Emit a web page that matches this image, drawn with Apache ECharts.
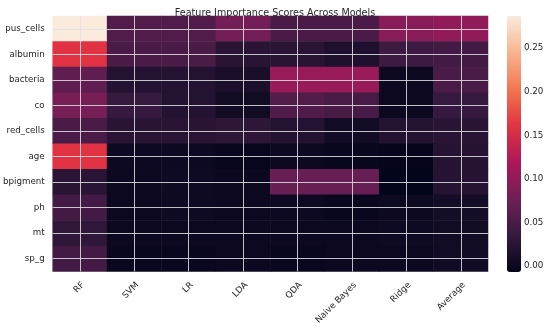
<!DOCTYPE html>
<html>
<head>
<meta charset="utf-8">
<script src="https://cdn.jsdelivr.net/npm/echarts@6/dist/echarts.min.js"></script>
<style>html,body{margin:0;padding:0;background:#fff}#c{width:550px;height:327px}</style>
</head>
<body>
<div id="c"></div>
<script>
const models = ['RF', 'SVM', 'LR', 'LDA', 'QDA', 'Naive Bayes', 'Ridge', 'Average'];
const features = ['pus_cells', 'albumin', 'bacteria', 'co', 'red_cells', 'age', 'bpigment', 'ph', 'mt', 'sp_g'];
const pus_cells = [0.287, 0.055, 0.055, 0.080, 0.050, 0.050, 0.093, 0.100];
const albumin   = [0.160, 0.050, 0.050, 0.025, 0.025, 0.015, 0.040, 0.045];
const bacteria  = [0.065, 0.020, 0.020, 0.012, 0.105, 0.105, 0.000, 0.050];
const co        = [0.082, 0.035, 0.020, 0.005, 0.055, 0.048, 0.000, 0.035];
const red_cells = [0.050, 0.025, 0.025, 0.028, 0.020, 0.006, 0.020, 0.025];
const age       = [0.160, 0.002, 0.002, -0.004, 0.001, -0.002, -0.005, 0.022];
const bpigment  = [0.025, 0.000, 0.003, 0.000, 0.070, 0.070, -0.007, 0.022];
const ph        = [0.045, 0.000, 0.003, 0.000, 0.002, -0.002, 0.001, 0.008];
const mt        = [0.030, 0.000, 0.000, 0.000, 0.000, 0.000, 0.003, 0.005];
const sp_g      = [0.045, -0.002, -0.002, 0.000, -0.002, 0.000, 0.000, 0.006];
const colorbarTicks = [0, 0.05, 0.10, 0.15, 0.20, 0.25];

const rows = [pus_cells, albumin, bacteria, co, red_cells, age, bpigment, ph, mt, sp_g];
const data = [];
rows.forEach((r, yi) => r.forEach((v, xi) => data.push([xi, yi, v])));
let vmin = Infinity, vmax = -Infinity;
data.forEach(d => { vmin = Math.min(vmin, d[2]); vmax = Math.max(vmax, d[2]); });

const rocket = ['#03051a', '#35193e', '#701f57', '#ad1759', '#e13342', '#f37651', '#f6b48f', '#faebdd'];
const txt = '#262626';
const font = 'DejaVu Sans';
const fs = 8.7;

// colorbar geometry
const cbTop = 16, cbH = 256, cbLeft = 507, cbW = 14;
const tMin = colorbarTicks[0], tMax = colorbarTicks[colorbarTicks.length - 1];
const pxPer = cbH / (vmax - vmin);
const axTop = cbTop + (vmax - tMax) * pxPer;
const axH = (tMax - tMin) * pxPer;

const chart = echarts.init(document.getElementById('c'));
chart.setOption({
  backgroundColor: '#fff',
  animation: false,
  textStyle: { fontFamily: font },
  title: {
    text: 'Feature Importance Scores Across Models',
    left: 270, top: 3, textAlign: 'center',
    textStyle: { fontSize: 9.6, fontWeight: 'normal', color: txt, fontFamily: font }
  },
  grid: [
    { left: 52, right: 62, top: 16, bottom: 55 },
    { left: cbLeft, width: cbW, top: axTop, height: axH }
  ],
  xAxis: [
    {
      type: 'category', data: models, gridIndex: 0, z: 5,
      axisLine: { show: false }, axisTick: { show: false, alignWithLabel: true },
      axisLabel: { interval: 0, rotate: 45, fontSize: fs, color: txt, fontFamily: font, margin: 9, align: 'right', verticalAlign: 'top' },
      splitLine: { show: true, alignWithLabel: true, interval: 0, lineStyle: { color: 'rgba(225,225,230,0.85)', width: 1 } }
    },
    { type: 'value', gridIndex: 1, show: false }
  ],
  yAxis: [
    {
      type: 'category', data: features, gridIndex: 0, inverse: true, z: 5,
      axisLine: { show: false }, axisTick: { show: false, alignWithLabel: true },
      axisLabel: { interval: 0, fontSize: fs, color: txt, fontFamily: font, margin: 8 },
      splitLine: { show: true, alignWithLabel: true, interval: 0, lineStyle: { color: 'rgba(225,225,230,0.85)', width: 1 } }
    },
    {
      type: 'value', gridIndex: 1, position: 'right', min: tMin, max: tMax, interval: 0.05,
      axisLine: { show: false }, splitLine: { show: false },
      axisTick: { show: true, length: 3.5, lineStyle: { color: txt, width: 0.8 } },
      axisLabel: { fontSize: fs, color: txt, fontFamily: font, margin: 3, formatter: v => v.toFixed(2) }
    }
  ],
  visualMap: {
    type: 'continuous', seriesIndex: 0, min: vmin, max: vmax, calculable: false,
    orient: 'vertical', left: cbLeft, top: cbTop, itemWidth: cbW, itemHeight: cbH,
    padding: 0, text: null, showLabel: false,
    inRange: { color: rocket }
  },
  series: [{
    type: 'heatmap', xAxisIndex: 0, yAxisIndex: 0, data: data, z: 2,
    itemStyle: { borderWidth: 0 }, emphasis: { disabled: true }
  }]
});
</script>
</body>
</html>
